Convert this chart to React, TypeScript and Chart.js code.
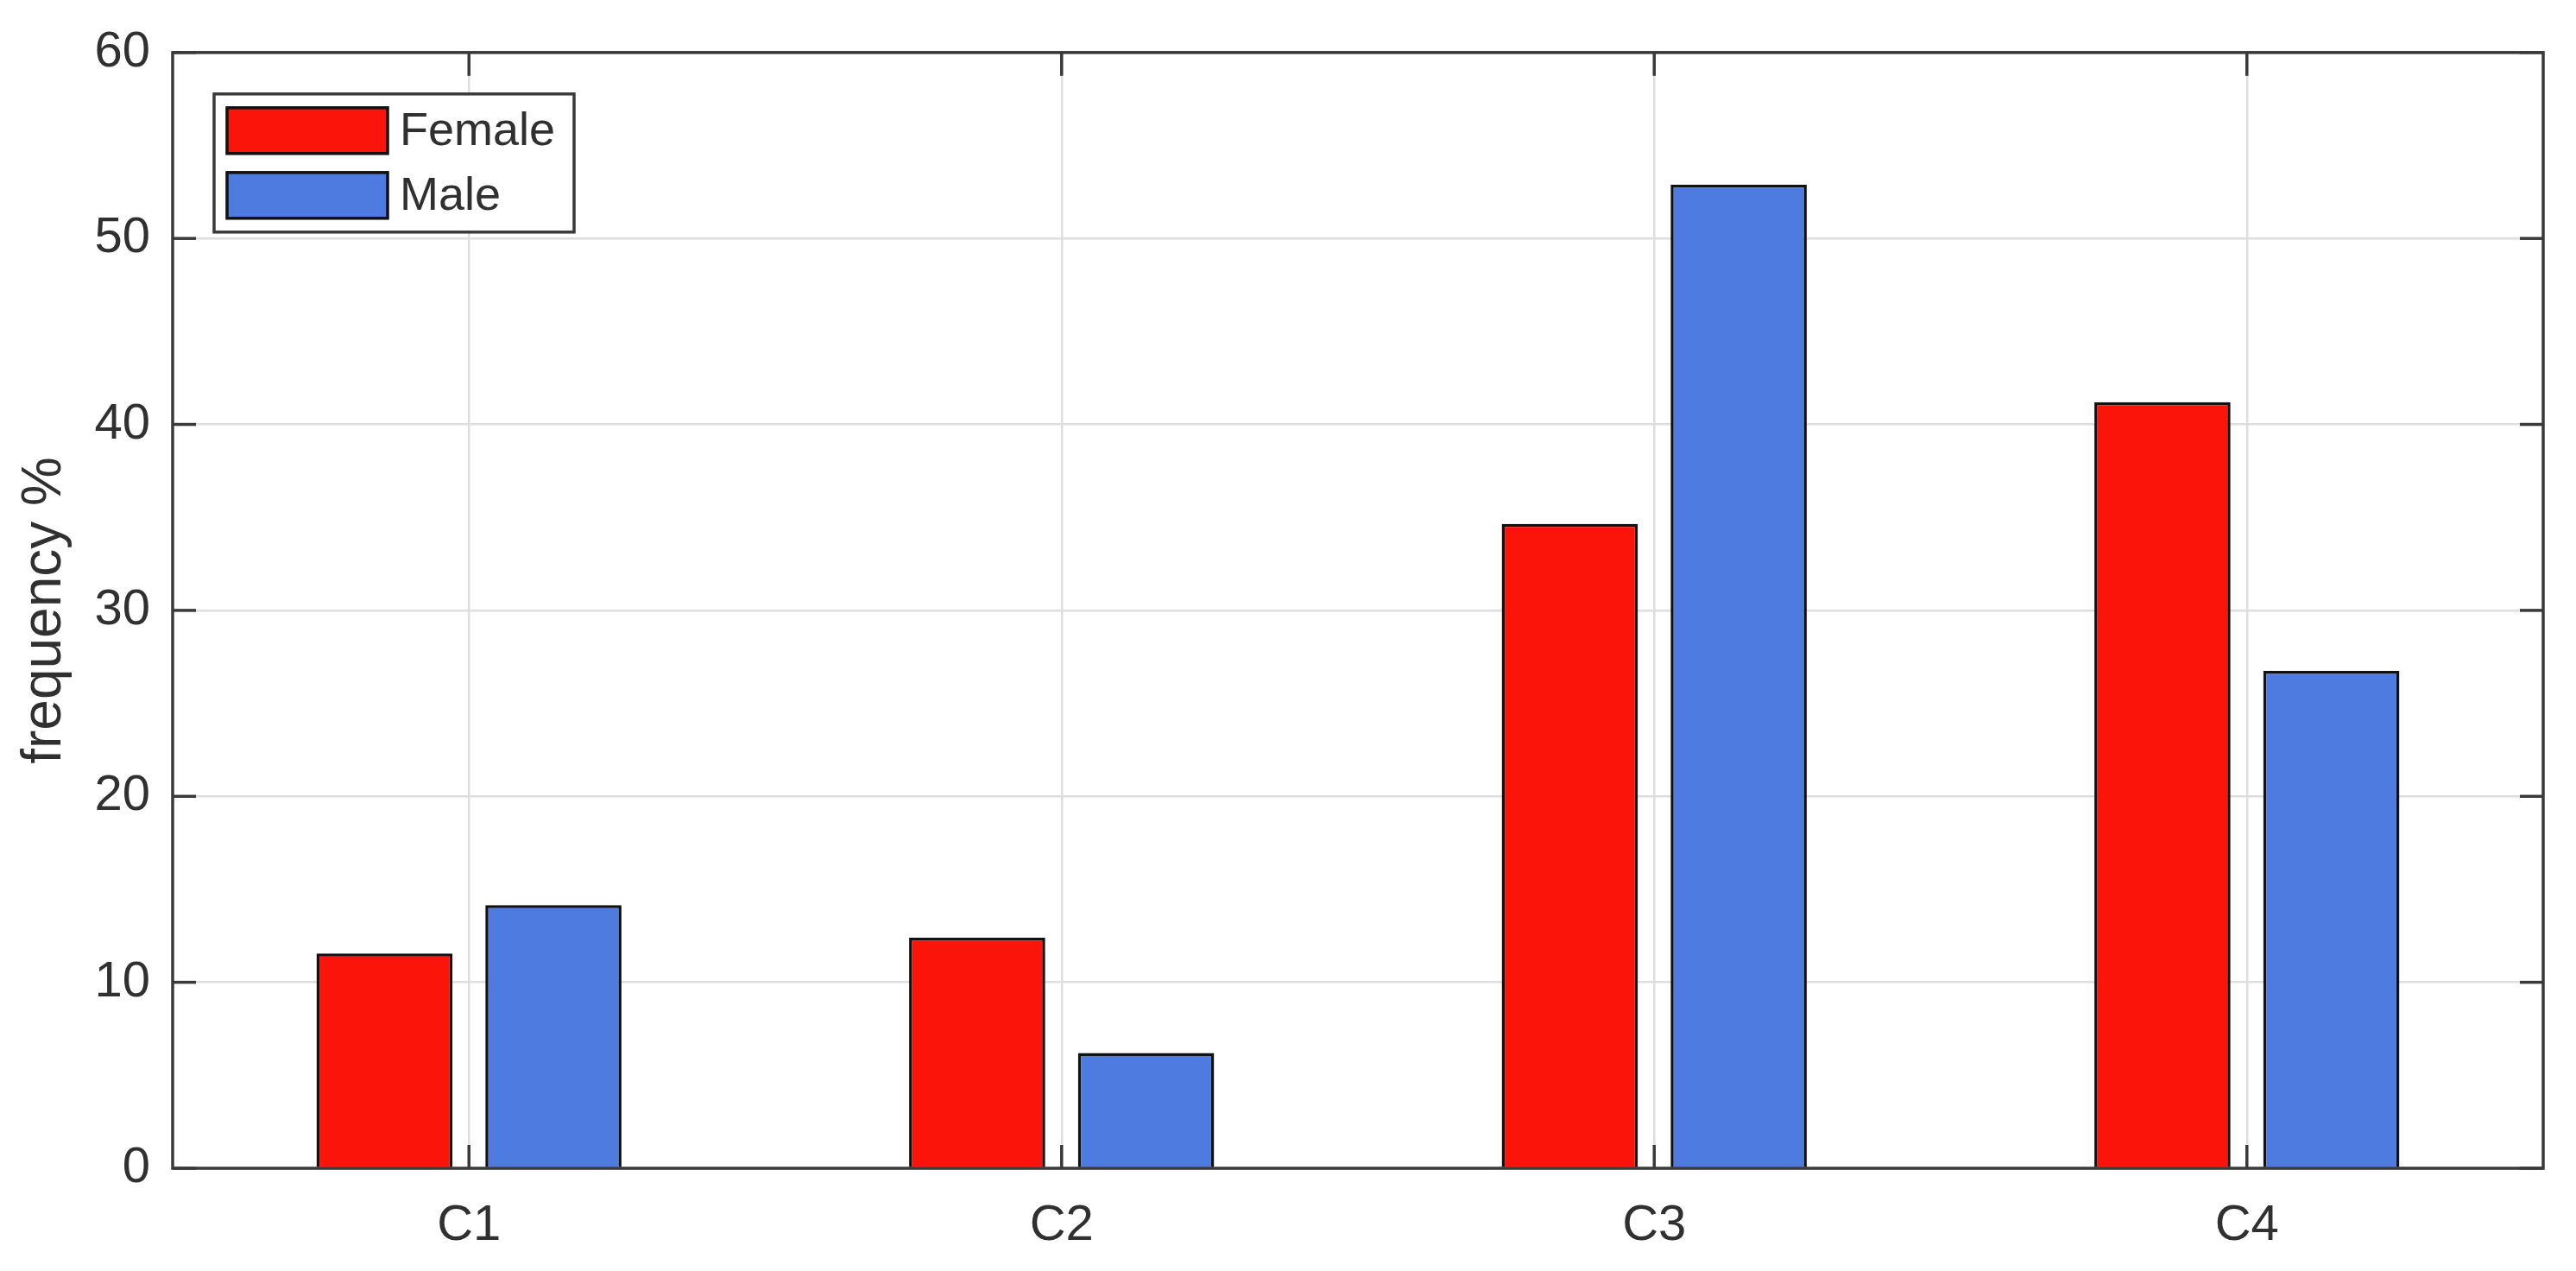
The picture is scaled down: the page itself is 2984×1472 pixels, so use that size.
import React, { useEffect, useRef } from "react";
import { Chart, registerables } from "chart.js";

Chart.register(...registerables);

const categories = ["C1", "C2", "C3", "C4"];
const femaleValues = [11.55, 12.4, 34.65, 41.2];
const maleValues = [14.15, 6.2, 52.9, 26.75];
const yTicks = [0, 10, 20, 30, 40, 50, 60];
const seriesLabels = ["Female", "Male"];
const yAxisTitle = "frequency %";

const FONT = "'Liberation Sans', Arial, Helvetica, sans-serif";
const TEXT = "#303030";
const AXIS = "#3a3a3a";
const RED = "#FB1409";
const BLUE = "#4E7BE0";

const W = 2984;
const H = 1472;

const framePlugin = {
  id: "frame",
  afterDatasetsDraw(chart: any) {
    const { ctx, chartArea, scales } = chart;
    const { left, right, top, bottom } = chartArea;
    const x = scales.x;
    const y = scales.y;
    const len = 27;
    ctx.save();
    ctx.strokeStyle = AXIS;
    ctx.lineWidth = 3.5;
    ctx.lineCap = "butt";
    const line = (x1: number, y1: number, x2: number, y2: number) => {
      ctx.beginPath();
      ctx.moveTo(x1, y1);
      ctx.lineTo(x2, y2);
      ctx.stroke();
    };
    y.ticks.forEach((t: any) => {
      const py = y.getPixelForValue(t.value);
      line(left, py, left + len, py);
      line(right, py, right - len, py);
    });
    x.ticks.forEach((_t: any, i: number) => {
      const px = x.getPixelForTick(i);
      line(px, bottom, px, bottom - len);
      line(px, top, px, top + len);
    });
    ctx.strokeRect(left, top, right - left, bottom - top);
    ctx.restore();
  },
};

const legendPlugin = {
  id: "insideLegend",
  afterDraw(chart: any) {
    const { ctx, chartArea } = chart;
    const bx = chartArea.left + 48;
    const by = chartArea.top + 48;
    const bw = 417;
    const bh = 160;
    ctx.save();
    ctx.fillStyle = "#ffffff";
    ctx.fillRect(bx, by, bw, bh);
    ctx.strokeStyle = AXIS;
    ctx.lineWidth = 3.5;
    ctx.strokeRect(bx, by, bw, bh);
    chart.data.datasets.forEach((ds: any, i: number) => {
      const sx = bx + 15;
      const sy = by + 16 + i * 75;
      const sw = 186;
      const sh = 53;
      ctx.fillStyle = ds.backgroundColor;
      ctx.fillRect(sx, sy, sw, sh);
      ctx.strokeStyle = "#111111";
      ctx.lineWidth = 3.5;
      ctx.strokeRect(sx, sy, sw, sh);
      ctx.fillStyle = TEXT;
      ctx.font = `54px ${FONT}`;
      ctx.textAlign = "left";
      ctx.textBaseline = "middle";
      ctx.fillText(ds.label, sx + sw + 14, sy + sh / 2 + 2);
    });
    ctx.restore();
  },
};

export default function App() {
  const ref = useRef<HTMLCanvasElement | null>(null);

  useEffect(() => {
    if (!ref.current) return;
    const chart = new Chart(ref.current, {
      type: "bar",
      data: {
        labels: categories,
        datasets: [
          {
            label: seriesLabels[0],
            data: femaleValues,
            backgroundColor: RED,
            borderColor: "#111111",
            borderWidth: 3.5,
            categoryPercentage: 0.57,
            barPercentage: 0.806,
          },
          {
            label: seriesLabels[1],
            data: maleValues,
            backgroundColor: BLUE,
            borderColor: "#111111",
            borderWidth: 3.5,
            categoryPercentage: 0.57,
            barPercentage: 0.806,
          },
        ],
      },
      options: {
        responsive: false,
        animation: false,
        devicePixelRatio: 1,
        layout: { padding: { top: 45, right: 38, bottom: 0, left: 0 } },
        plugins: {
          legend: { display: false },
          tooltip: { enabled: false },
          title: { display: false },
        },
        scales: {
          x: {
            type: "category",
            offset: true,
            grid: {
              offset: false,
              color: "#dedede",
              lineWidth: 2.5,
              drawTicks: false,
            },
            border: { display: false },
            ticks: {
              color: TEXT,
              font: { family: FONT, size: 58 },
              padding: 32,
              maxRotation: 0,
              autoSkip: false,
            },
            afterFit(s: any) {
              s.height = 119;
            },
          },
          y: {
            min: 0,
            max: 60,
            afterBuildTicks(s: any) {
              s.ticks = yTicks.map((v) => ({ value: v }));
            },
            grid: {
              color: "#dedede",
              lineWidth: 2.5,
              drawTicks: false,
            },
            border: { display: false },
            ticks: {
              color: TEXT,
              font: { family: FONT, size: 58 },
              padding: 26,
              autoSkip: false,
            },
            title: {
              display: true,
              text: yAxisTitle,
              color: TEXT,
              font: { family: FONT, size: 64 },
              padding: { top: 14, bottom: 0 },
            },
            afterFit(s: any) {
              s.width = 200;
            },
          },
        },
      },
      plugins: [framePlugin, legendPlugin],
    });
    return () => chart.destroy();
  }, []);

  return (
    <div style={{ position: "fixed", left: 0, top: 0, width: W, height: H, background: "#fff" }}>
      <canvas ref={ref} width={W} height={H} style={{ display: "block", width: W, height: H }} />
    </div>
  );
}
